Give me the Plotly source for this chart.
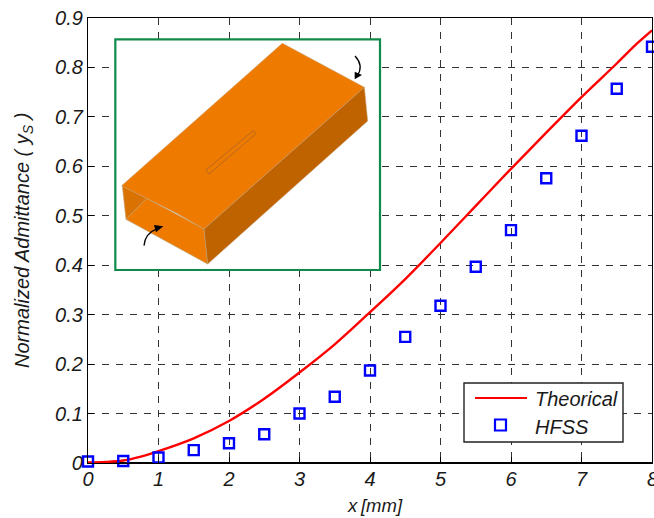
import plotly.graph_objects as go

W, H = 654, 518
L, R, T, B = 88, 652, 18, 463

# Chart data
x_curve = [0, 0.25, 0.5, 0.75, 1, 1.5, 2, 2.5, 3, 3.5, 4, 4.5, 5, 5.5, 6, 6.5, 7, 7.5, 7.8, 8]
y_curve = [0.001, 0.002, 0.005, 0.013, 0.024, 0.05, 0.085, 0.13, 0.183, 0.24, 0.305, 0.372, 0.445, 0.52, 0.595, 0.668, 0.74, 0.808, 0.85, 0.875]
x_hfss = [0, 0.5, 1, 1.5, 2, 2.5, 3, 3.5, 4, 4.5, 5, 5.5, 6, 6.5, 7, 7.5, 8]
y_hfss = [0.003, 0.004, 0.011, 0.026, 0.04, 0.058, 0.1, 0.134, 0.187, 0.255, 0.318, 0.397, 0.471, 0.576, 0.662, 0.757, 0.842]
x_ticks = list(range(8))
y_ticks = [0, 0.1, 0.2, 0.3, 0.4, 0.5, 0.6, 0.7, 0.8, 0.9]
y_labels = ["0", "0.1", "0.2", "0.3", "0.4", "0.5", "0.6", "0.7", "0.8", "0.9"]


def px(xp):
    return (xp - L) / (R - L)


def py(yp):
    return (B - yp) / (B - T)


L_OFF, T_OFF = 100, 25
shapes = []


def cx(a):
    return px(L_OFF + a / 3)


def cy(b):
    return py(T_OFF + b / 3)


def poly(points, fill, line="rgba(0,0,0,0)", width=0):
    path = []
    for i, (a, b) in enumerate(points):
        path.append(f"{'M' if i == 0 else 'L'}{cx(a):.5f},{cy(b):.5f}")
    d = " ".join(path) + " Z"
    shapes.append(dict(type="path", path=d, xref="paper", yref="paper",
                       fillcolor=fill, line=dict(color=line, width=width), layer="above"))


def curve(p0, c, p1):
    d = f"M{cx(p0[0]):.5f},{cy(p0[1]):.5f} Q{cx(c[0]):.5f},{cy(c[1]):.5f} {cx(p1[0]):.5f},{cy(p1[1]):.5f}"
    shapes.append(dict(type="path", path=d, xref="paper", yref="paper",
                       line=dict(color="black", width=1.3), layer="above"))


# Inset frame
poly([(46, 43), (840, 43), (840, 735), (46, 735)], "white", "#0f8a4a", 2.2)
# Waveguide faces
poly([(67, 483), (140, 520), (78, 583)], "#d97200", "#c9a070", 0.6)
poly([(78, 583), (140, 520), (312, 612), (323, 717)], "#ef7a00", "#b5a070", 0.6)
poly([(65, 482), (547, 55), (793, 187), (312, 612), (230, 565), (140, 520)], "#ef7a00", "#c99a60", 0.6)
poly([(312, 612), (793, 187), (803, 288), (323, 717)], "#bf6200", "#c9a070", 0.6)
# Slot
poly([(318, 435), (460, 317), (467, 327), (327, 447)], "#ef7a00", "#b86a20", 1)
# Arrows
curve((132, 662), (135, 625), (172, 611))
poly([(162, 600), (190, 604), (168, 622)], "black")
curve((765, 93), (792, 122), (772, 152))
poly([(764, 163), (764, 140), (786, 150)], "black")

# Bottom axis heavier than the rest of the box
shapes.append(dict(type="line", xref="paper", yref="paper", x0=0, x1=1, y0=0, y1=0,
                   line=dict(color="black", width=2), layer="below"))
# Legend box and keys
shapes += [
    dict(type="rect", xref="paper", yref="paper", x0=px(464), x1=px(623), y0=py(442), y1=py(383),
         fillcolor="white", line=dict(color="#222", width=1.4), layer="above"),
    dict(type="line", xref="paper", yref="paper", x0=px(475), x1=px(527), y0=py(398), y1=py(398),
         line=dict(color="#ff0000", width=2.2), layer="above"),
    dict(type="rect", xref="paper", yref="paper", x0=px(495), x1=px(506), y0=py(430.5), y1=py(419.5),
         fillcolor="rgba(0,0,0,0)", line=dict(color="#0000ff", width=2.2), layer="above"),
]

fig = go.Figure()
fig.add_trace(go.Scatter(x=x_curve, y=y_curve, mode="lines", name="Theorical", cliponaxis=True,
                         line=dict(color="#ff0000", width=2.4, shape="spline"), showlegend=False))
fig.add_trace(go.Scatter(x=x_hfss, y=y_hfss, mode="markers", name="HFSS", cliponaxis=False,
                         marker=dict(symbol="square-open", size=10, color="#0000ff",
                                     line=dict(color="#0000ff", width=2.4)), showlegend=False))

font = dict(family="Liberation Sans", size=20, color="#1a1a1a", style="italic")
axis_common = dict(ticks="inside", ticklen=6, tickcolor="black", tickfont=font, automargin=False,
                   showgrid=True, gridcolor="#333333", griddash="7px,7px", gridwidth=1,
                   showline=True, linecolor="black", linewidth=1.3, mirror=True, zeroline=False)
fig.update_layout(
    width=W, height=H, autosize=False,
    margin=dict(l=L, r=W - R, t=T, b=H - B, pad=0),
    paper_bgcolor="white", plot_bgcolor="white",
    font=font, showlegend=False, shapes=shapes,
    xaxis=dict(range=[0, 8], tickvals=x_ticks, ticktext=[str(v) for v in x_ticks],
               ticklabelstandoff=-2, **axis_common),
    yaxis=dict(range=[0, 0.9], tickvals=y_ticks, ticktext=y_labels, **axis_common),
)

text_font = dict(family="Liberation Sans", size=20, color="#1a1a1a", style="italic")
# Last x tick label, which runs off the edge of the picture as in the reference
fig.add_annotation(xref="x", yref="paper", x=8, y=py(479), text="8", showarrow=False,
                   xanchor="center", yanchor="middle", font=text_font)
fig.add_annotation(xref="paper", yref="paper", x=px(533), y=py(399), text="Theorical", showarrow=False,
                   xanchor="left", yanchor="middle", font=text_font)
fig.add_annotation(xref="paper", yref="paper", x=px(533), y=py(427), text="HFSS", showarrow=False,
                   xanchor="left", yanchor="middle", font=text_font)
fig.add_annotation(xref="paper", yref="paper", x=px(375), y=py(505), text="x\u2009[mm]", showarrow=False,
                   xanchor="center", yanchor="middle",
                   font=dict(family="Liberation Sans", size=18.5, color="#1a1a1a", style="italic"))
fig.add_annotation(xref="paper", yref="paper", x=px(24), y=py(241), textangle=-90,
                   text="Normalized Admittance ( y<sub>S</sub> )", showarrow=False,
                   xanchor="center", yanchor="middle",
                   font=dict(family="Liberation Sans", size=20, color="#1a1a1a", style="italic"))

fig.write_html("out.html", config={"displayModeBar": False},
               post_script="document.body.style.margin='0';document.documentElement.style.overflow='hidden';")
